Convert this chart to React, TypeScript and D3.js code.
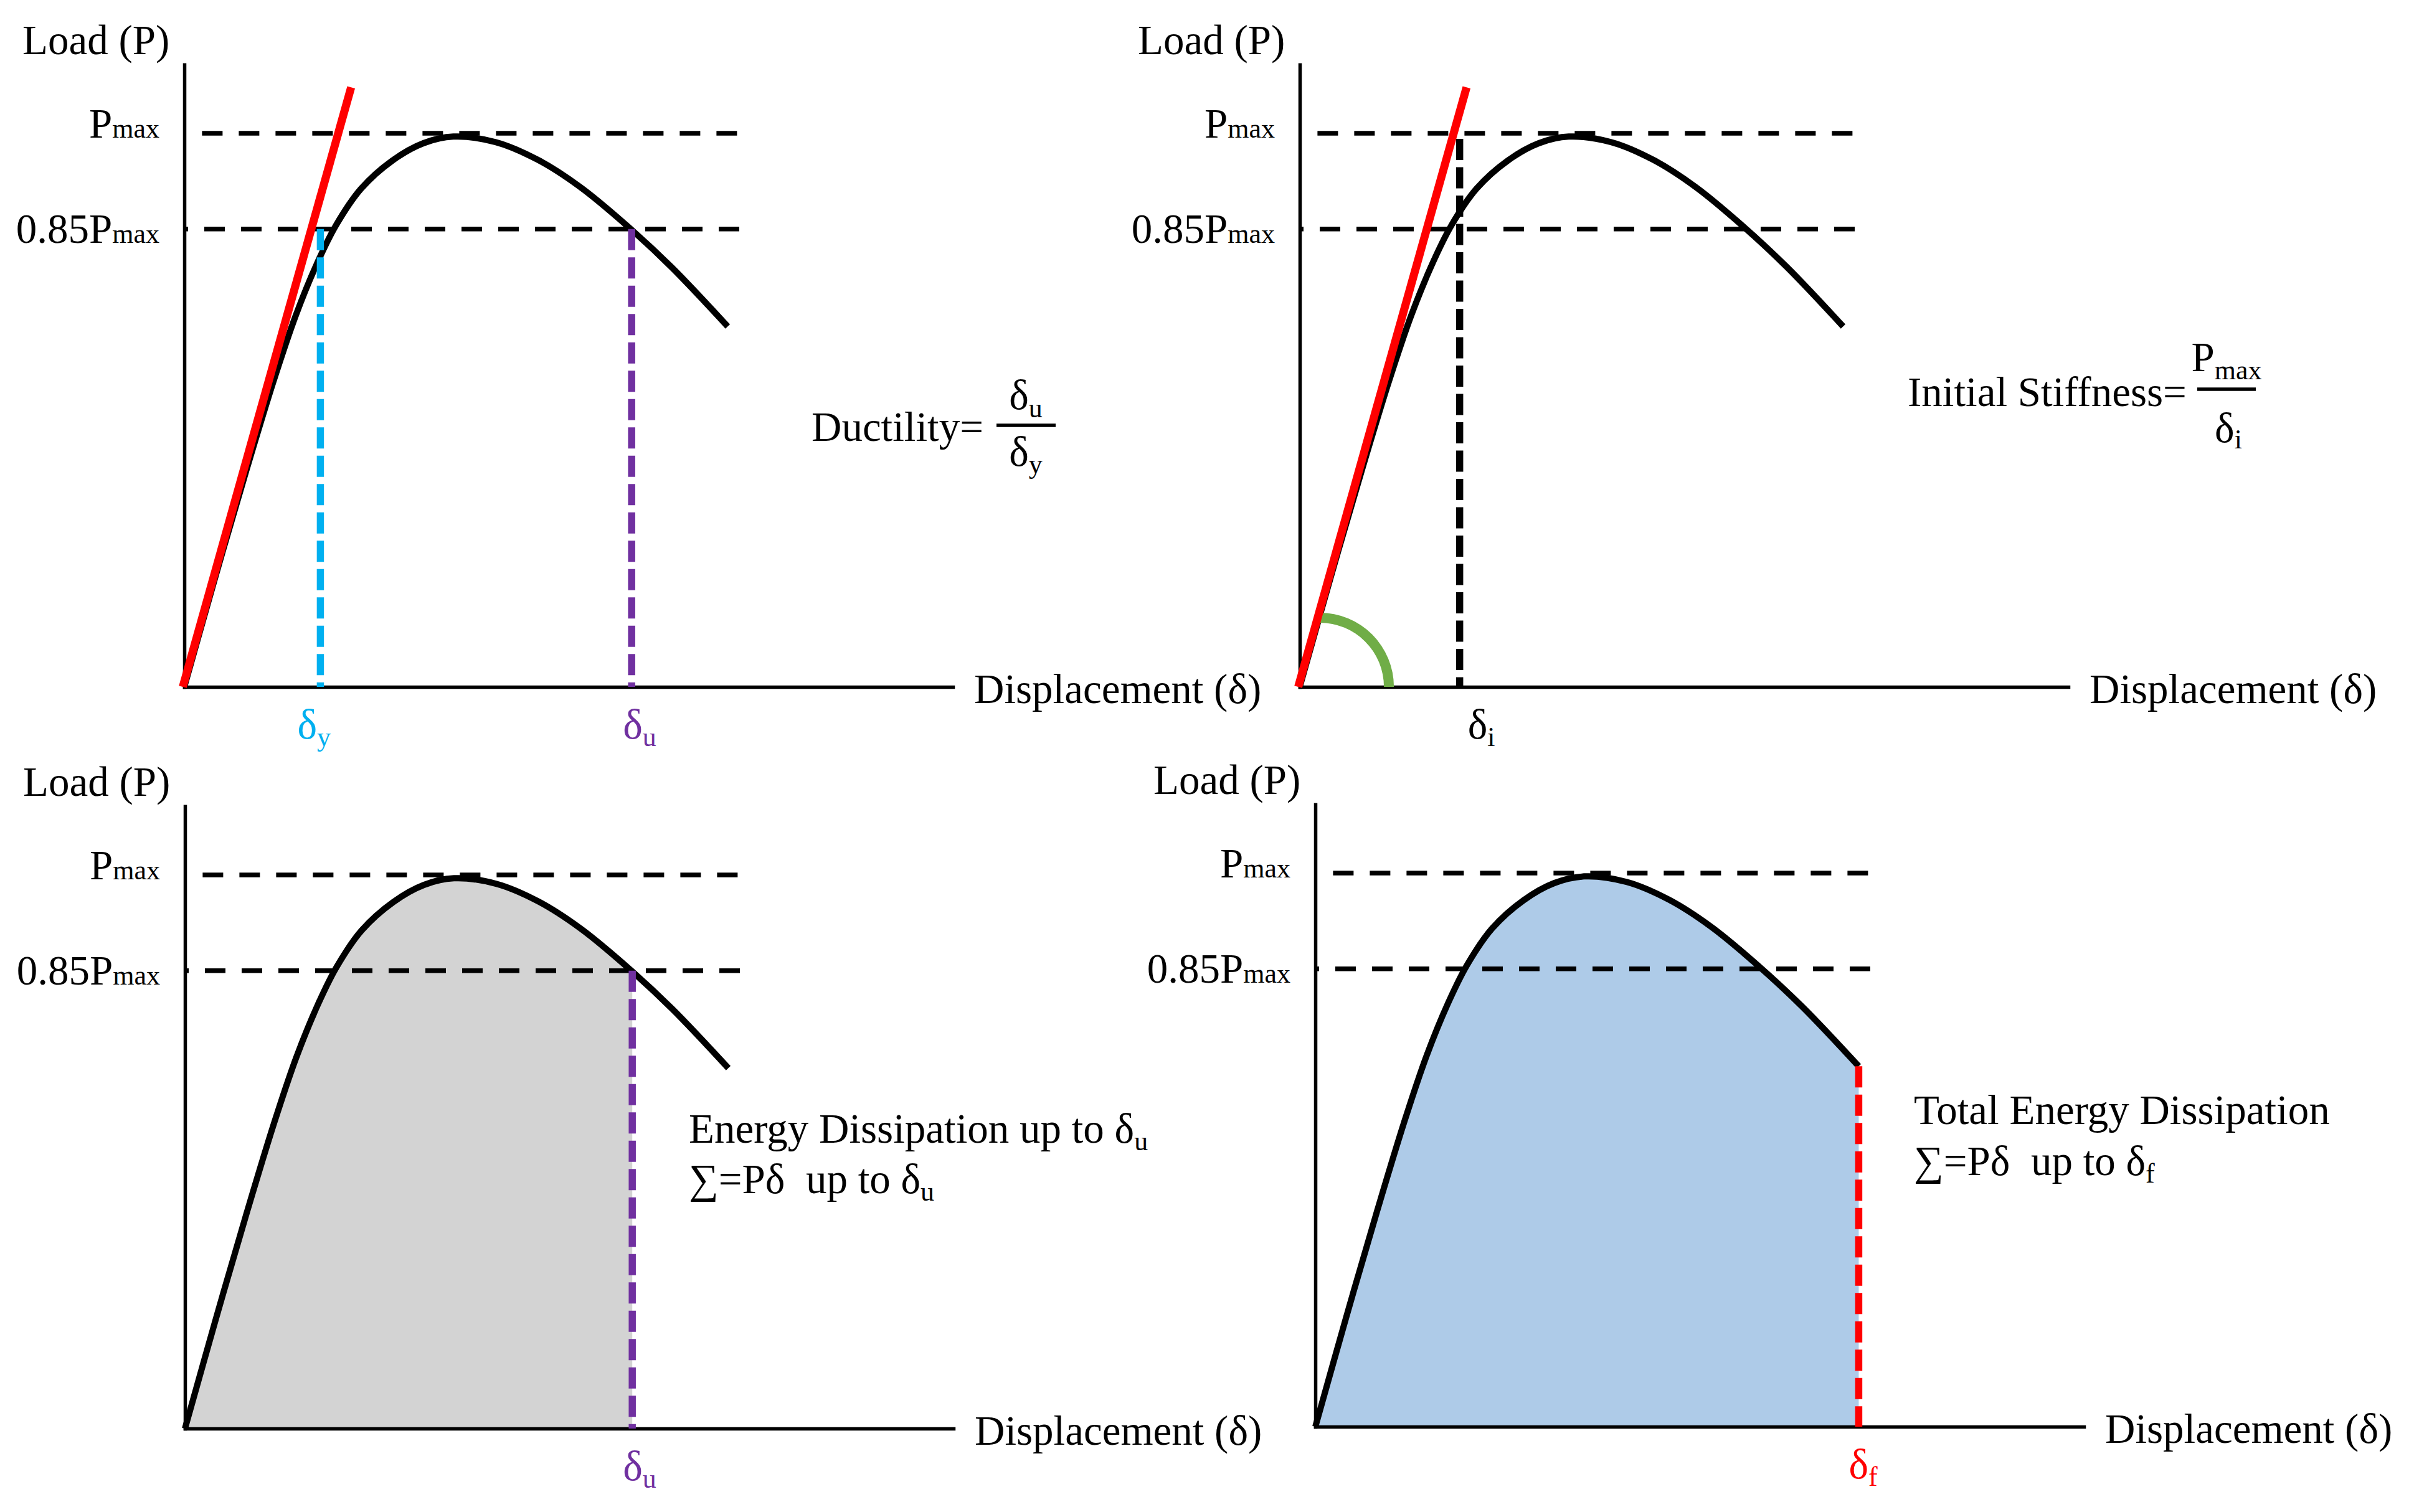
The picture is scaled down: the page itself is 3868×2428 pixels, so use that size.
import React, { useEffect, useRef } from 'react'
import * as d3 from 'd3'

const FONT = '"Liberation Serif", "Times New Roman", serif'

// load-displacement curve, load as a fraction of Pmax
const curveDisp = [0, 0.4, 0.8, 1.16, 1.45, 1.73, 1.97, 2.3, 2.71, 3.11, 3.5, 4.05, 4.6, 5.15, 5.76, 6.34, 7.07]
const curveLoad = [0, 0.197, 0.388, 0.552, 0.671, 0.766, 0.833, 0.9, 0.951, 0.982, 0.994, 0.984, 0.952, 0.903, 0.833, 0.758, 0.651]

// initial stiffness line (red)
const tangentDisp = [-0.02, 2.17]
const tangentLoad = [0, 1.083]

// reference load levels
const levelLoads = [1, 0.827]
const levelLabels = ['P', '0.85P']
const levelFrom = [0.23, 0]
const levelTo = [7.21, 7.23]

// characteristic displacements
const deltaY = 1.77
const deltaU = 5.82
const deltaI = 2.08
const deltaF = 7.07
const arcCenterDisp = 0.26

const DISP_MAX = 10
const LOAD_MAX = 1.124

const panels = [
    { ox: 296, oy: 1103 },
    { ox: 2087, oy: 1103 },
    { ox: 297, oy: 2294 },
    { ox: 2112, oy: 2291 },
]

function addLabel(sel, x, y, main, sub, opts?) {
    opts = opts || {}
    let t = sel.append('text')
        .attr('x', x)
        .attr('y', y)
        .attr('font-family', FONT)
        .attr('font-size', 67)
        .attr('fill', opts.color || '#000')
        .attr('text-anchor', opts.anchor || 'start')
        .style('white-space', 'pre')
    t.append('tspan').text(main)
    if (sub) {
        t.append('tspan')
            .attr('font-size', 44)
            .attr('dy', opts.drop === undefined ? 12 : opts.drop)
            .text(sub)
    }
    return t
}

function vDash(g, x, y, disp, top, color) {
    g.append('line')
        .attr('x1', x(disp)).attr('x2', x(disp))
        .attr('y1', y(top)).attr('y2', y(0))
        .attr('stroke', color)
        .attr('stroke-width', 11.5)
        .attr('stroke-dasharray', '34,11.5')
}

export default function App() {
    const ref = useRef(null)

    useEffect(() => {
        const svg = d3.select(ref.current)
        svg.selectAll('*').remove()
        const curve = curveDisp.map((d, i) => [d, curveLoad[i]])
        const tangent = tangentDisp.map((d, i) => [d, tangentLoad[i]])
        const defs = svg.append('defs')
        const smooth = d3.curveCatmullRom.alpha(0.5)

        panels.forEach((p, i) => {
            const g = svg.append('g')
            const x = d3.scaleLinear().domain([0, DISP_MAX]).range([p.ox, p.ox + 1234])
            const y = d3.scaleLinear().domain([0, LOAD_MAX]).range([p.oy, p.oy - 889 * LOAD_MAX])

            const line = d3.line().x(d => x(d[0])).y(d => y(d[1])).curve(smooth)
            const area = d3.area().x(d => x(d[0])).y0(y(0)).y1(d => y(d[1])).curve(smooth)

            //Filled energy areas
            if (i === 2) {
                defs.append('clipPath').attr('id', 'clip-du')
                    .append('rect')
                    .attr('x', x(0)).attr('y', y(LOAD_MAX))
                    .attr('width', x(deltaU) - x(0)).attr('height', y(0) - y(LOAD_MAX))
                g.append('path').datum(curve).attr('d', area)
                    .attr('fill', '#D3D3D3').attr('clip-path', 'url(#clip-du)')
            }
            if (i === 3) {
                g.append('path').datum(curve).attr('d', area).attr('fill', '#AECBE8')
            }

            //Axes
            const xAxis = g.append('g').attr('transform', 'translate(0,' + y(0) + ')')
                .call(d3.axisBottom(x).tickValues([]).tickSizeOuter(0))
            const yAxis = g.append('g').attr('transform', 'translate(' + x(0) + ',0)')
                .call(d3.axisLeft(y).tickValues([]).tickSizeOuter(0))
            ;[xAxis, yAxis].forEach(a => a.select('.domain')
                .attr('stroke', '#000').attr('stroke-width', 5.5).attr('stroke-linecap', 'square'))

            addLabel(g, p.ox - 260, y(LOAD_MAX) - 17, 'Load (P)')
            addLabel(g, x(DISP_MAX) + 34, p.oy + 26, 'Displacement (δ)')

            //Pmax and 0.85Pmax levels
            levelLoads.forEach((v, k) => {
                g.append('line')
                    .attr('x1', x(levelFrom[k])).attr('x2', x(levelTo[k]))
                    .attr('y1', y(v)).attr('y2', y(v))
                    .attr('stroke', '#000')
                    .attr('stroke-width', 7.5)
                    .attr('stroke-dasharray', '33,26')
                    .attr('stroke-dashoffset', k === 1 ? 27 : 0)
                addLabel(g, p.ox - 40, y(v) + (k === 0 ? 7 : 22), levelLabels[k], 'max', { anchor: 'end', drop: 0 })
            })

            //The load-displacement curve
            g.append('path').datum(curve).attr('d', line)
                .attr('fill', 'none').attr('stroke', '#000').attr('stroke-width', 10)

            if (i === 1) {
                const arc = d3.arc()({ innerRadius: 103, outerRadius: 119, startAngle: 0, endAngle: Math.PI / 2 })
                g.append('path').attr('d', arc)
                    .attr('transform', 'translate(' + x(arcCenterDisp) + ',' + y(0) + ')')
                    .attr('fill', '#70AD47')
            }

            if (i < 2) {
                g.append('path').datum(tangent).attr('d', d3.line().x(d => x(d[0])).y(d => y(d[1])))
                    .attr('fill', 'none').attr('stroke', '#FF0000').attr('stroke-width', 13)
            }

            if (i === 0) {
                vDash(g, x, y, deltaY, levelLoads[1], '#00B0F0')
                vDash(g, x, y, deltaU, levelLoads[1], '#7030A0')
                addLabel(g, x(deltaY) - 37, p.oy + 83, 'δ', 'y', { color: '#00B0F0' })
                addLabel(g, x(deltaU) - 14, p.oy + 83, 'δ', 'u', { color: '#7030A0' })

                addLabel(g, 1303, 708, 'Ductility=')
                g.append('line').attr('x1', 1600).attr('x2', 1695).attr('y1', 683).attr('y2', 683)
                    .attr('stroke', '#000').attr('stroke-width', 5.5)
                addLabel(g, 1647, 657, 'δ', 'u', { anchor: 'middle', drop: 13 })
                addLabel(g, 1647, 748, 'δ', 'y', { anchor: 'middle' })
            }

            if (i === 1) {
                vDash(g, x, y, deltaI, 0.99, '#000')
                addLabel(g, x(deltaI) + 13, p.oy + 83, 'δ', 'i')

                addLabel(g, 3063, 652, 'Initial Stiffness=')
                g.append('line').attr('x1', 3528).attr('x2', 3622).attr('y1', 625).attr('y2', 625)
                    .attr('stroke', '#000').attr('stroke-width', 5.5)
                addLabel(g, 3575, 596, 'P', 'max', { anchor: 'middle', drop: 13 })
                addLabel(g, 3578, 710, 'δ', 'i', { anchor: 'middle', drop: 10 })
            }

            if (i === 2) {
                vDash(g, x, y, deltaU, levelLoads[1], '#7030A0')
                addLabel(g, x(deltaU) - 15, p.oy + 83, 'δ', 'u', { color: '#7030A0' })
                addLabel(g, 1106, 1835, 'Energy Dissipation up to δ', 'u')
                addLabel(g, 1106, 1916, '∑=Pδ  up to δ', 'u')
            }

            if (i === 3) {
                vDash(g, x, y, deltaF, curveLoad[curveLoad.length - 1], '#FF0000')
                addLabel(g, x(deltaF) - 16, p.oy + 83, 'δ', 'f', { color: '#FF0000' })
                addLabel(g, 3073, 1805, 'Total Energy Dissipation')
                addLabel(g, 3073, 1887, '∑=Pδ  up to δ', 'f')
            }
        })
    }, [])

    return <svg ref={ref} width={3868} height={2428}
                style={{ position: 'absolute', left: 0, top: 0, background: '#fff' }}>
    </svg>
}
